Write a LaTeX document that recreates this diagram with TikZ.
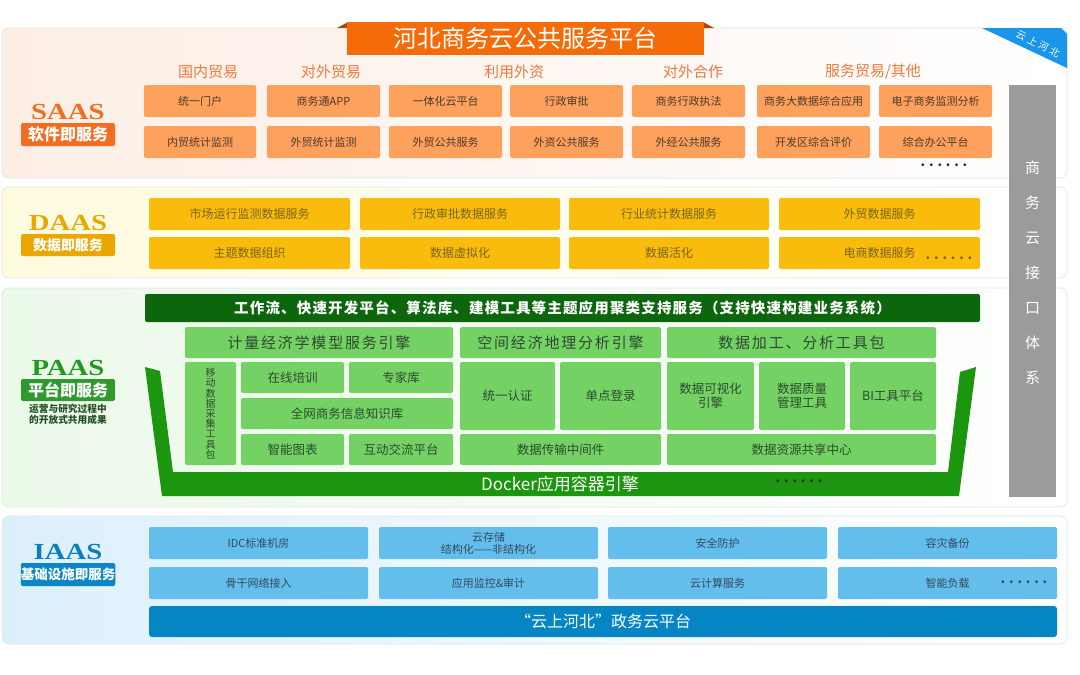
\documentclass[tikz,border=0pt]{standalone}
\usepackage{fontspec}
\setmainfont{Noto Sans CJK SC}
\newfontfamily\lserif{Liberation Serif}
\newfontfamily\cjkspa{Noto Sans CJK SC}[LetterSpace=8]
\newfontfamily\cjkspb{Noto Sans CJK SC}[LetterSpace=12]
\newfontfamily\cjkspc{Noto Sans CJK SC}[LetterSpace=25]
\definecolor{saasbg}{HTML}{FCEEE5}
\definecolor{saasor}{HTML}{F26D1F}
\definecolor{titleor}{HTML}{F46B08}
\definecolor{foldor}{HTML}{A84A08}
\definecolor{saashead}{HTML}{F07A3C}
\definecolor{saasbox}{HTML}{FDA15C}
\definecolor{saastxt}{HTML}{4E3A2C}
\definecolor{daasbg}{HTML}{FFFBDF}
\definecolor{daasgold}{HTML}{E9A700}
\definecolor{daasbox}{HTML}{F9BC0D}
\definecolor{daastxt}{HTML}{7A6418}
\definecolor{paasbg}{HTML}{EBF9E9}
\definecolor{paasgreen}{HTML}{219A21}
\definecolor{paaslabel}{HTML}{2E9A2E}
\definecolor{paasnote}{HTML}{244F24}
\definecolor{paasdark}{HTML}{0C660C}
\definecolor{tray}{HTML}{1C960F}
\definecolor{paasbox}{HTML}{74D265}
\definecolor{paastxt}{HTML}{2E4A2E}
\definecolor{iaasbg}{HTML}{DCF0FB}
\definecolor{iaasblue}{HTML}{0B7DC0}
\definecolor{iaaslabel}{HTML}{0A86C6}
\definecolor{iaasbox}{HTML}{63BEEC}
\definecolor{iaastxt}{HTML}{344A60}
\definecolor{iaasbar}{HTML}{0585C4}
\definecolor{graybar}{HTML}{9B9B9B}
\definecolor{cornerblue}{HTML}{1A95EA}
\definecolor{panelline}{HTML}{E4E4E4}
\definecolor{dotcol}{HTML}{2A2A2A}
\newcommand{\mybox}[7]{\node[#2, minimum width={#5pt-#3pt}, minimum height={#6pt-#4pt}] (#1) at ({(#3+#5)/2},{(#4+#6)/2}) {#7};}
\newcommand{\sixdots}{\makebox[8.4pt]{.}\makebox[8.4pt]{.}\makebox[8.4pt]{.}\makebox[8.4pt]{.}\makebox[8.4pt]{.}\makebox[8.4pt]{.}}
\begin{document}
\begin{tikzpicture}[x=1pt,y=-1pt,
  every node/.style={inner sep=0pt, outer sep=0pt, align=center},
  panel/.style={draw=panelline, line width=0.7pt, rounded corners=7pt},
  lname/.style={font=\lserif\bfseries\fontsize{23}{25}\selectfont, xscale=1.25},
  tag/.style={rounded corners=2pt, text=white, font=\bfseries\fontsize{16}{18}\selectfont},
  head/.style={text=saashead, font=\fontsize{15}{17}\selectfont},
  sbox/.style={fill=saasbox, rounded corners=2pt, text=saastxt, font=\fontsize{11}{13}\selectfont},
  dbox/.style={fill=daasbox, rounded corners=2pt, text=daastxt, font=\fontsize{12}{14}\selectfont},
  pbig/.style={fill=paasbox, rounded corners=2pt, text=paastxt, font=\cjkspb\fontsize{15}{17}\selectfont},
  pbox/.style={fill=paasbox, rounded corners=2pt, text=paastxt, font=\fontsize{12.5}{14}\selectfont},
  ibox/.style={fill=iaasbox, rounded corners=2pt, text=iaastxt, font=\fontsize{11}{13}\selectfont},
  dotsty/.style={text=dotcol, font=\bfseries\fontsize{13}{13}\selectfont},
]
\fill[white] (0,0) rectangle (1080,675);
\useasboundingbox (0,0) rectangle (1080,675);

% ---------- SAAS ----------
\mybox{saaspanel}{panel, left color=saasbg, right color=white}{2}{28}{1067}{178}{}
\fill[cornerblue] (982,28) -- (1061,28) -- (1067,34) -- (1067,68) -- cycle;
\node[rotate=-27, text=white, font=\cjkspc\fontsize{10}{11}\selectfont] (ribbon) at (1038,44) {云上河北};
\fill[foldor] (337,28) -- (348,22) -- (348,28) -- cycle;
\fill[foldor] (703,22) -- (714,28) -- (703,28) -- cycle;
\mybox{title}{fill=titleor, text=white, font=\fontsize{24}{26}\selectfont}{347}{22}{704}{55}{河北商务云公共服务平台}

\node[lname, text=saasor] (saasname) at (68,112) {SAAS};
\mybox{saastag}{tag, fill=saasor}{21}{123}{115}{146}{软件即服务}

\node[head] (h1) at (208,72) {国内贸易};
\node[head] (h2) at (331,72) {对外贸易};
\node[head] (h3) at (514,72) {利用外资};
\node[head] (h4) at (693,72) {对外合作};
\node[head] (h5) at (873,72) {服务贸易/其他};

\mybox{s11}{sbox}{144}{85}{256}{117}{统一门户}
\mybox{s12}{sbox}{267}{85}{380}{117}{商务通APP}
\mybox{s13}{sbox}{389}{85}{502}{117}{一体化云平台}
\mybox{s14}{sbox}{510}{85}{623}{117}{行政审批}
\mybox{s15}{sbox}{632}{85}{745}{117}{商务行政执法}
\mybox{s16}{sbox}{757}{85}{870}{117}{商务大数据综合应用}
\mybox{s17}{sbox}{879}{85}{992}{117}{电子商务监测分析}
\mybox{s21}{sbox}{144}{126}{256}{158}{内贸统计监测}
\mybox{s22}{sbox}{267}{126}{380}{158}{外贸统计监测}
\mybox{s23}{sbox}{389}{126}{502}{158}{外贸公共服务}
\mybox{s24}{sbox}{510}{126}{623}{158}{外资公共服务}
\mybox{s25}{sbox}{632}{126}{745}{158}{外经公共服务}
\mybox{s26}{sbox}{757}{126}{870}{158}{开发区综合评价}
\mybox{s27}{sbox}{879}{126}{992}{158}{综合办公平台}
\node[dotsty] (sdots) at (944,165) {\sixdots};

% ---------- DAAS ----------
\mybox{daaspanel}{panel, left color=daasbg, right color=white}{2}{187}{1067}{278}{}
\node[lname, text=daasgold] (daasname) at (68,223) {DAAS};
\mybox{daastag}{tag, fill=daasgold, font=\bfseries\fontsize{14}{16}\selectfont}{21}{234}{115}{256}{数据即服务}
\mybox{d11}{dbox}{149}{198}{350}{230}{市场运行监测数据服务}
\mybox{d12}{dbox}{360}{198}{560}{230}{行政审批数据服务}
\mybox{d13}{dbox}{569}{198}{769}{230}{行业统计数据服务}
\mybox{d14}{dbox}{779}{198}{980}{230}{外贸数据服务}
\mybox{d21}{dbox}{149}{237}{350}{269}{主题数据组织}
\mybox{d22}{dbox}{360}{237}{560}{269}{数据虚拟化}
\mybox{d23}{dbox}{569}{237}{769}{269}{数据活化}
\mybox{d24}{dbox}{779}{237}{980}{269}{电商数据服务}
\node[dotsty, text=daastxt] (ddots) at (949,258) {\sixdots};

% ---------- PAAS ----------
\mybox{paaspanel}{panel, left color=paasbg, right color=white}{2}{288}{1067}{507}{}
\node[lname, text=paasgreen] (paasname) at (68,368) {PAAS};
\mybox{paastag}{tag, fill=paaslabel}{21}{379}{115}{401}{平台即服务}
\node[text=paasnote, font=\bfseries\fontsize{9.7}{11}\selectfont] (paasnote) at (68,414) {运营与研究过程中\\的开放式共用成果};

\mybox{paashead}{fill=paasdark, rounded corners=2pt, text=white, font=\cjkspa\bfseries\fontsize{14.5}{16}\selectfont}{145}{294}{980}{322}{工作流、快速开发平台、算法库、建模工具等主题应用聚类支持服务（支持快速构建业务系统）}

\fill[tray] (145,367) -- (160,371) -- (173,472) -- (948,472) -- (960,372) -- (976,367) -- (959,496) -- (162,496) -- cycle;
\node[text=white, font=\fontsize{17}{19}\selectfont] (docker) at (560,484) {Docker应用容器引擎};
\node[dotsty] (pdots) at (799,481) {\sixdots};

\mybox{p1}{pbig}{185}{327}{453}{358}{计量经济学模型服务引擎}
\mybox{p2}{pbig}{460}{327}{661}{358}{空间经济地理分析引擎}
\mybox{p3}{pbig}{667}{327}{936}{358}{数据加工、分析工具包}
\mybox{pm}{pbox, font=\fontsize{10}{10.2}\selectfont}{185}{362}{236}{465}{移\\动\\数\\据\\采\\集\\工\\具\\包}
\mybox{pa}{pbox}{241}{362}{344}{393}{在线培训}
\mybox{pb}{pbox}{349}{362}{453}{393}{专家库}
\mybox{pc}{pbox}{241}{398}{453}{429}{全网商务信息知识库}
\mybox{pd}{pbox}{241}{434}{344}{465}{智能图表}
\mybox{pe}{pbox}{349}{434}{453}{465}{互动交流平台}
\mybox{pf}{pbox}{460}{362}{555}{430}{统一认证}
\mybox{pg}{pbox}{560}{362}{661}{430}{单点登录}
\mybox{ph}{pbox}{460}{434}{661}{465}{数据传输中间件}
\mybox{pi}{pbox}{667}{362}{754}{430}{数据可视化\\引擎}
\mybox{pj}{pbox}{759}{362}{845}{430}{数据质量\\管理工具}
\mybox{pk}{pbox}{850}{362}{936}{430}{BI工具平台}
\mybox{pl}{pbox}{667}{434}{936}{465}{数据资源共享中心}

% ---------- IAAS ----------
\mybox{iaaspanel}{panel, left color=iaasbg, right color=white}{2}{516}{1067}{644}{}
\node[lname, text=iaasblue] (iaasname) at (68,552) {IAAS};
\mybox{iaastag}{tag, fill=iaaslabel, font=\bfseries\fontsize{13.5}{15}\selectfont}{21}{563}{115}{586}{基础设施即服务}
\mybox{i11}{ibox}{149}{527}{368}{559}{IDC标准机房}
\mybox{i12}{ibox, font=\fontsize{11}{12}\selectfont}{379}{527}{598}{559}{云存储\\结构化——非结构化}
\mybox{i13}{ibox}{608}{527}{827}{559}{安全防护}
\mybox{i14}{ibox}{838}{527}{1057}{559}{容灾备份}
\mybox{i21}{ibox}{149}{567}{368}{599}{骨干网络接入}
\mybox{i22}{ibox}{379}{567}{598}{599}{应用监控\&审计}
\mybox{i23}{ibox}{608}{567}{827}{599}{云计算服务}
\mybox{i24}{ibox}{838}{567}{1057}{599}{智能负载}
\node[dotsty, text=iaastxt] (idots) at (1024,582) {\sixdots};
\mybox{ibar}{fill=iaasbar, rounded corners=3pt, text=white, font=\fontsize{16}{18}\selectfont}{149}{606}{1057}{637}{“云上河北”政务云平台}

% ---------- interface bar ----------
\mybox{api}{fill=graybar}{1009}{85}{1056}{497}{}
\node[text=white, font=\fontsize{15}{35}\selectfont] (apitext) at (1032.5,273) {商\\务\\云\\接\\口\\体\\系};
\end{tikzpicture}
\end{document}
